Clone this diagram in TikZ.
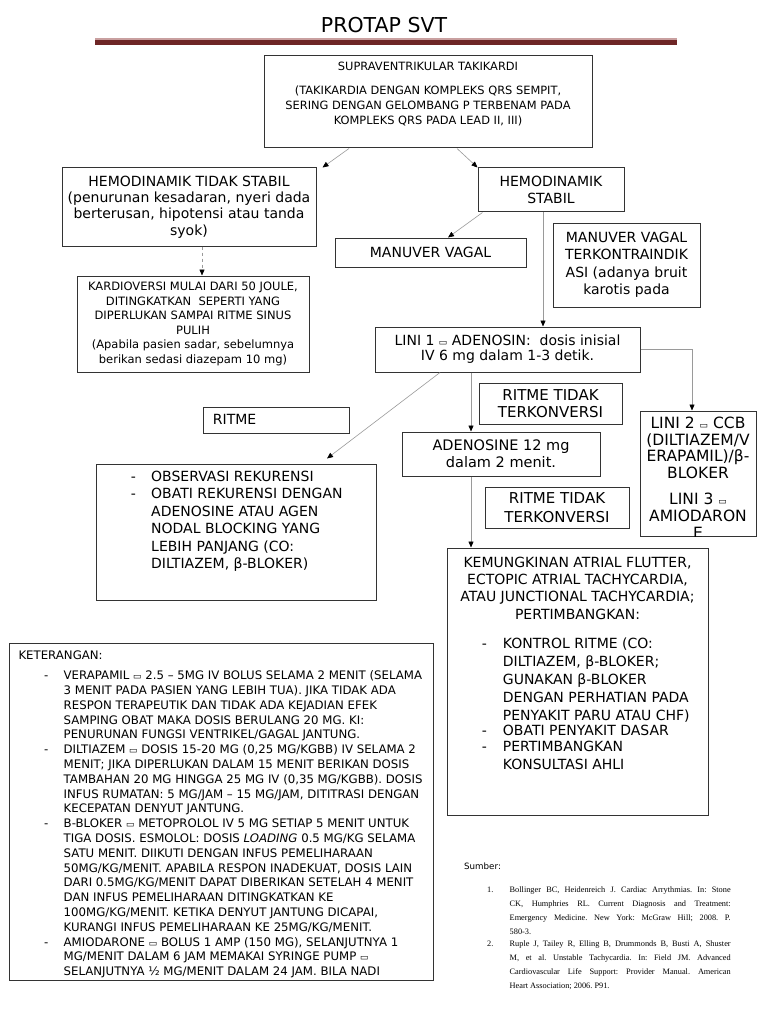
\documentclass[tikz,border=0pt]{standalone}
\usepackage{fontspec}
\setmainfont{DejaVu Sans}
\newfontfamily\reffont{Liberation Serif}
\usetikzlibrary{arrows.meta}

\definecolor{barred}{HTML}{6E2626}
\definecolor{barpink}{HTML}{C9A0A0}
\definecolor{linegray}{HTML}{9A9A9A}

\newcommand{\fsz}[2]{\fontsize{#1}{#2}\selectfont}
\newcommand{\eqbox}{{\fontsize{9}{9}\selectfont ▭}}
\newcommand{\bul}[1]{\makebox[#1][l]{-}}
\newcommand{\ind}[1]{\hspace*{#1}}
\newcommand{\jline}[1]{\makebox[221pt][s]{#1}}

\tikzset{
  box/.style={draw=black!80, line width=1pt, inner sep=0pt, align=center},
  txt/.style={inner sep=0pt, align=center},
  arr/.style={draw=linegray, line width=0.6pt, -{Triangle[length=6pt,width=5pt,color=black]}},
}

\begin{document}
\frenchspacing
\begin{tikzpicture}[x=1pt, y=-1pt]
\useasboundingbox (0,0) rectangle (768,1024);
\fill[white] (0,0) rectangle (768,1024);

% title and bar
\node[txt, font=\fsz{20.5}{24}] (title) at (384,25) {PROTAP SVT};
\fill[barpink] (95,38.3) rectangle (677,39.8);
\fill[barred] (95,39.8) rectangle (677,45);

% top
\node[box, minimum width=328pt, minimum height=92pt] (top) at (428,102) {};
\node[txt, anchor=north, font=\fsz{11.4}{15}] (top-t) at (428,62)
  {SUPRAVENTRIKULAR TAKIKARDI\\[9pt]
   (TAKIKARDIA DENGAN KOMPLEKS QRS SEMPIT,\\
   SERING DENGAN GELOMBANG P TERBENAM PADA\\
   KOMPLEKS QRS PADA LEAD II, III)};

% hemodinamik
\node[box, minimum width=254pt, minimum height=78pt, font=\fsz{14}{16.4}] (hts) at (189,207)
  {HEMODINAMIK TIDAK STABIL\\(penurunan kesadaran, nyeri dada\\berterusan, hipotensi atau tanda\\syok)};
\node[box, minimum width=146pt, minimum height=44pt, font=\fsz{14}{17}] (hs) at (551,190)
  {HEMODINAMIK\\STABIL};
\node[box, minimum width=232pt, minimum height=96pt, font=\fsz{11.5}{14.5}] (kard) at (193,324)
  {KARDIOVERSI MULAI DARI 50 JOULE,\\DITINGKATKAN\ \ SEPERTI YANG\\DIPERLUKAN SAMPAI RITME SINUS\\PULIH\\(Apabila pasien sadar, sebelumnya\\berikan sedasi diazepam 10 mg)};
\node[box, minimum width=191pt, minimum height=29pt, font=\fsz{14}{17}] (mv) at (430.5,252.5)
  {MANUVER VAGAL};
\node[box, minimum width=147pt, minimum height=83pt] (mvk) at (626.5,265.5) {};
\node[txt, anchor=north, font=\fsz{14}{17.3}] (mvk-t) at (626.5,232)
  {MANUVER VAGAL\\TERKONTRAINDIK\\ASI (adanya bruit\\karotis pada};

% lini 1 and follow-up
\node[box, minimum width=265pt, minimum height=45pt, font=\fsz{14}{15}] (l1) at (507.5,349.5)
  {LINI 1 \eqbox{} ADENOSIN:\ \ dosis inisial\\IV 6 mg dalam 1-3 detik.};
\node[box, minimum width=143pt, minimum height=41pt, font=\fsz{15}{17.3}] (rtk1) at (550.5,403.5)
  {RITME TIDAK\\TERKONVERSI};
\node[box, minimum width=198pt, minimum height=44pt, font=\fsz{14.5}{17}] (ad) at (501,454)
  {ADENOSINE 12 mg\\dalam 2 menit.};
\node[box, minimum width=144pt, minimum height=41pt, font=\fsz{15}{18.4}] (rtk2) at (557,507.5)
  {RITME TIDAK\\TERKONVERSI};

\node[box, minimum width=116pt, minimum height=125pt] (l2) at (698,473.5) {};
\begin{scope}
  \clip (l2.north west) rectangle (l2.south east);
  \node[txt, anchor=north, font=\fsz{15.5}{16.8}] (l2-t) at (698,416.5)
    {LINI 2 \eqbox{} CCB\\(DILTIAZEM/V\\ERAPAMIL)/β-\\BLOKER\\[9pt]LINI 3 \eqbox\\AMIODARON\\E};
\end{scope}

\node[box, minimum width=146pt, minimum height=26pt] (ritme) at (276,420) {};
\node[txt, anchor=west, font=\fsz{14}{17}] (ritme-t) at (212.7,419) {RITME};

\node[box, minimum width=280pt, minimum height=136pt] (obs) at (236,532) {};
\node[txt, anchor=north west, align=left, font=\fsz{14}{17.5}] (obs-t) at (130.7,470.8)
  {\bul{20.3pt}OBSERVASI REKURENSI\\
   \bul{20.3pt}OBATI REKURENSI DENGAN\\
   \ind{20.3pt}ADENOSINE ATAU AGEN\\
   \ind{20.3pt}NODAL BLOCKING YANG\\
   \ind{20.3pt}LEBIH PANJANG (CO:\\
   \ind{20.3pt}DILTIAZEM, β-BLOKER)};

\node[box, minimum width=261pt, minimum height=267pt] (kem) at (577.5,681.5) {};
\node[txt, anchor=north, font=\fsz{14}{17.4}] (kem-h) at (577.5,556.5)
  {KEMUNGKINAN ATRIAL FLUTTER,\\ECTOPIC ATRIAL TACHYCARDIA,\\ATAU JUNCTIONAL TACHYCARDIA;\\PERTIMBANGKAN:};
\node[txt, anchor=north west, align=left, font=\fsz{14}{17.9}] (kem-l) at (481.7,637.8)
  {\bul{21pt}KONTROL RITME (CO:\\
   \ind{21pt}DILTIAZEM, β-BLOKER;\\
   \ind{21pt}GUNAKAN β-BLOKER\\
   \ind{21pt}DENGAN PERHATIAN PADA\\
   \ind{21pt}PENYAKIT PARU ATAU CHF)\\[-2.2pt]
   \bul{21pt}OBATI PENYAKIT DASAR\\[-1.9pt]
   \bul{21pt}PERTIMBANGKAN\\[-0.6pt]
   \ind{21pt}KONSULTASI AHLI};

% keterangan
\node[box, minimum width=424pt, minimum height=337pt] (ket) at (221,811.5) {};
\node[txt, anchor=west, font=\fsz{11.75}{15}] (ket-h) at (18.3,655) {KETERANGAN:};
\node[txt, anchor=north west, align=left, font=\fsz{11.75}{14.8}] (ket-l) at (44,670.6)
  {\bul{19.5pt}VERAPAMIL \eqbox{} 2.5 – 5MG IV BOLUS SELAMA 2 MENIT (SELAMA\\
   \ind{19.5pt}3 MENIT PADA PASIEN YANG LEBIH TUA). JIKA TIDAK ADA\\
   \ind{19.5pt}RESPON TERAPEUTIK DAN TIDAK ADA KEJADIAN EFEK\\
   \ind{19.5pt}SAMPING OBAT MAKA DOSIS BERULANG 20 MG. KI:\\
   \ind{19.5pt}PENURUNAN FUNGSI VENTRIKEL/GAGAL JANTUNG.\\
   \bul{19.5pt}DILTIAZEM \eqbox{} DOSIS 15-20 MG (0,25 MG/KGBB) IV SELAMA 2\\
   \ind{19.5pt}MENIT; JIKA DIPERLUKAN DALAM 15 MENIT BERIKAN DOSIS\\
   \ind{19.5pt}TAMBAHAN 20 MG HINGGA 25 MG IV (0,35 MG/KGBB). DOSIS\\
   \ind{19.5pt}INFUS RUMATAN: 5 MG/JAM – 15 MG/JAM, DITITRASI DENGAN\\
   \ind{19.5pt}KECEPATAN DENYUT JANTUNG.\\
   \bul{19.5pt}B-BLOKER \eqbox{} METOPROLOL IV 5 MG SETIAP 5 MENIT UNTUK\\
   \ind{19.5pt}TIGA DOSIS. ESMOLOL: DOSIS \textit{LOADING} 0.5 MG/KG SELAMA\\
   \ind{19.5pt}SATU MENIT. DIIKUTI DENGAN INFUS PEMELIHARAAN\\
   \ind{19.5pt}50MG/KG/MENIT. APABILA RESPON INADEKUAT, DOSIS LAIN\\
   \ind{19.5pt}DARI 0.5MG/KG/MENIT DAPAT DIBERIKAN SETELAH 4 MENIT\\
   \ind{19.5pt}DAN INFUS PEMELIHARAAN DITINGKATKAN KE\\
   \ind{19.5pt}100MG/KG/MENIT. KETIKA DENYUT JANTUNG DICAPAI,\\
   \ind{19.5pt}KURANGI INFUS PEMELIHARAAN KE 25MG/KG/MENIT.\\
   \bul{19.5pt}AMIODARONE \eqbox{} BOLUS 1 AMP (150 MG), SELANJUTNYA 1\\
   \ind{19.5pt}MG/MENIT DALAM 6 JAM MEMAKAI SYRINGE PUMP \eqbox\\
   \ind{19.5pt}SELANJUTNYA ½ MG/MENIT DALAM 24 JAM. BILA NADI};

% sumber
\node[txt, anchor=west, font=\fsz{8.7}{10}] (src) at (464,866) {Sumber:};
\node[txt, anchor=north west, align=left, font=\reffont\fsz{8.3}{14}] (ref1) at (487,887)
  {\makebox[22.5pt][l]{1.}\jline{Bollinger BC, Heidenreich J. Cardiac Arrythmias. In: Stone}\\
   \ind{22.5pt}\jline{CK, Humphries RL. Current Diagnosis and Treatment:}\\
   \ind{22.5pt}\jline{Emergency Medicine. New York: McGraw Hill; 2008. P.}\\
   \ind{22.5pt}580-3.};
\node[txt, anchor=north west, align=left, font=\reffont\fsz{8.3}{14}] (ref2) at (487,941)
  {\makebox[22.5pt][l]{2.}\jline{Ruple J, Tailey R, Elling B, Drummonds B, Busti A, Shuster}\\
   \ind{22.5pt}\jline{M, et al. Unstable Tachycardia. In: Field JM. Advanced}\\
   \ind{22.5pt}\jline{Cardiovascular Life Support: Provider Manual. American}\\
   \ind{22.5pt}Heart Association; 2006. P91.};

% connectors
\draw[arr] ([xshift=-79pt]top.south) -- ([xshift=6pt]hts.north east);
\draw[arr] ([xshift=29pt]top.south) -- (hs.north west);
\draw[arr, dashed] ([xshift=13pt]hts.south) -- ([xshift=9pt]kard.north);
\draw[arr] ([xshift=5pt]hs.south west) -- ([xshift=17.5pt]mv.north);
\draw[arr] ([xshift=-8pt]hs.south) -- ([xshift=-8pt]hs.south |- l1.north);
\draw[arr] (l1.east) -| ([xshift=-6pt]l2.north);
\draw[arr] ([xshift=-67.5pt]l1.south) -- ([xshift=91pt,yshift=5pt]obs.north);
\draw[arr] ([xshift=-36.5pt]l1.south) -- ([xshift=-36.5pt]l1.south |- ad.north);
\draw[arr] ([xshift=-30pt]ad.south) -- ([xshift=-30pt]ad.south |- kem.north);
\end{tikzpicture}
\end{document}
